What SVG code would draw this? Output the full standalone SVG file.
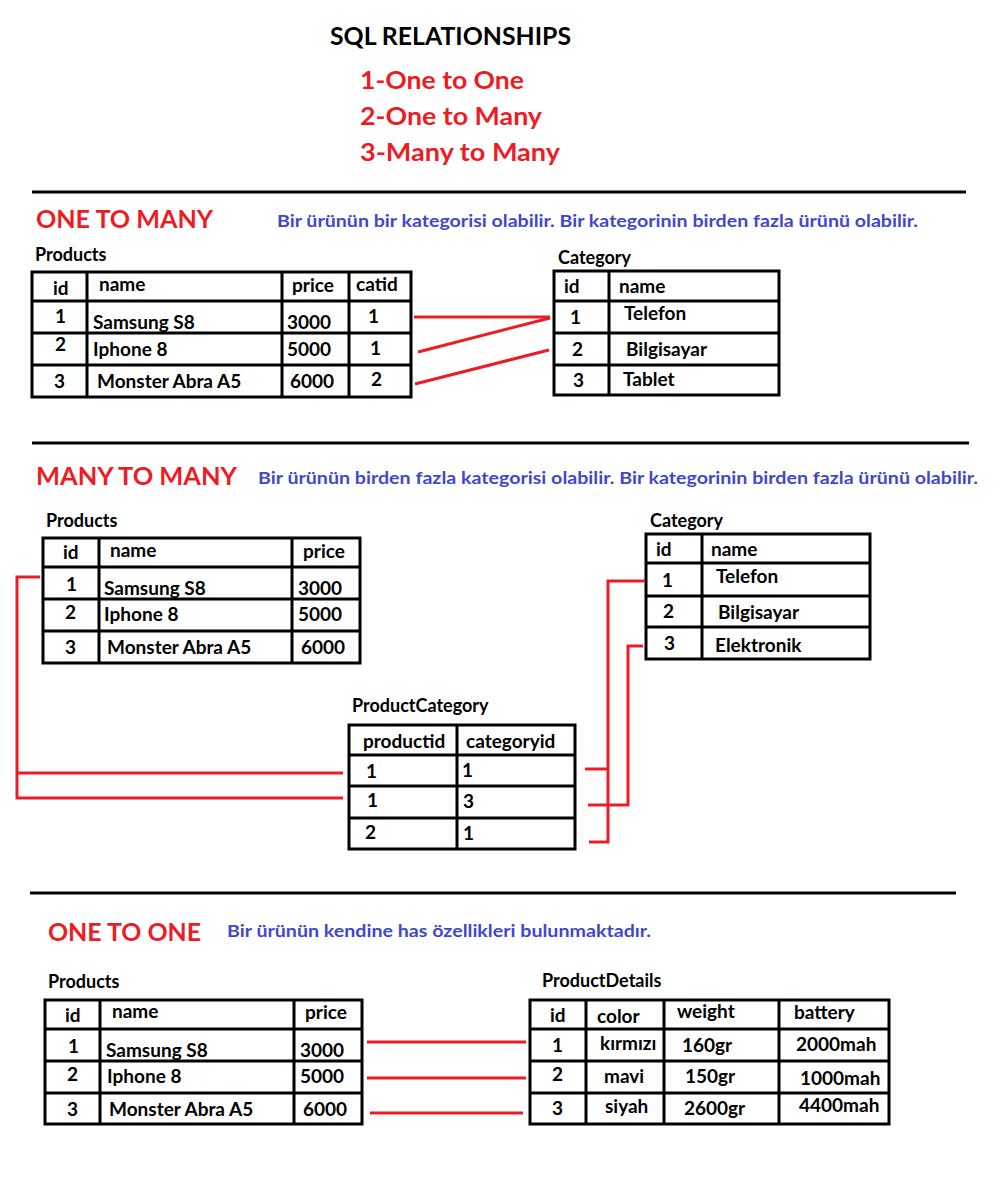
<svg xmlns="http://www.w3.org/2000/svg" width="1002" height="1183" viewBox="0 0 1002 1183">
<style>
text{font-family:Lato,"Liberation Sans",sans-serif;font-weight:700;font-size:19px;fill:#000}
.title{font-size:25px}
.red{font-size:25px;fill:#ed1c24}
.blue{font-size:17.5px;fill:#3f48cc}
.lbl{font-size:18px}
.grid{fill:none;stroke:#000;stroke-width:3}
.sep{stroke:#000;stroke-width:3}
.rel{fill:none;stroke:#ed1c24;stroke-width:3}
</style>
<rect width="1002" height="1183" fill="#fff"/>

<g id="header">
<text class="title" x="330" y="45" textLength="241" lengthAdjust="spacingAndGlyphs">SQL RELATIONSHIPS</text>
<text class="red" x="360" y="89" textLength="164" lengthAdjust="spacingAndGlyphs">1-One to One</text>
<text class="red" x="360" y="125" textLength="182" lengthAdjust="spacingAndGlyphs">2-One to Many</text>
<text class="red" x="360" y="161" textLength="200" lengthAdjust="spacingAndGlyphs">3-Many to Many</text>
</g>

<g id="separators">
<line class="sep" x1="32" y1="192" x2="966" y2="192"/>
<line class="sep" x1="32" y1="443" x2="969" y2="443"/>
<line class="sep" x1="30" y1="893" x2="956" y2="893"/>
</g>

<g id="section-titles">
<text class="red" x="36" y="228" textLength="177" lengthAdjust="spacingAndGlyphs">ONE TO MANY</text>
<text class="blue" x="277" y="227" textLength="641" lengthAdjust="spacingAndGlyphs">Bir ürünün bir kategorisi olabilir. Bir kategorinin birden fazla ürünü olabilir.</text>
<text class="red" x="36" y="485" textLength="201" lengthAdjust="spacingAndGlyphs">MANY TO MANY</text>
<text class="blue" x="258" y="484" textLength="720" lengthAdjust="spacingAndGlyphs">Bir ürünün birden fazla kategorisi olabilir. Bir kategorinin birden fazla ürünü olabilir.</text>
<text class="red" x="48" y="941" textLength="153" lengthAdjust="spacingAndGlyphs">ONE TO ONE</text>
<text class="blue" x="227" y="937" textLength="424" lengthAdjust="spacingAndGlyphs">Bir ürünün kendine has özellikleri bulunmaktadır.</text>
</g>

<g id="otm-products">
<text class="lbl" x="35" y="261">Products</text>
<rect class="grid" x="32" y="272" width="379" height="125"/>
<path class="grid" d="M87,272V397M282,272V397M349,272V397M32,301H411M32,333H411M32,365H411"/>
<text x="53" y="295">id</text><text x="99" y="291">name</text><text x="292" y="292">price</text><text x="356" y="291">catid</text>
<text x="55" y="323">1</text><text x="93" y="329">Samsung S8</text><text x="287" y="329">3000</text><text x="368" y="323">1</text>
<text x="55" y="351">2</text><text x="93" y="356">Iphone 8</text><text x="287" y="356">5000</text><text x="370" y="355">1</text>
<text x="54" y="388">3</text><text x="97" y="388">Monster Abra A5</text><text x="290" y="388">6000</text><text x="371" y="386">2</text>
</g>

<g id="otm-category">
<text class="lbl" x="558" y="264">Category</text>
<rect class="grid" x="554" y="271" width="225" height="124"/>
<path class="grid" d="M609,271V395M554,301H779M554,333H779M554,365H779"/>
<text x="564" y="293">id</text><text x="619" y="293">name</text>
<text x="570" y="324">1</text><text x="624" y="320">Telefon</text>
<text x="572" y="356">2</text><text x="626" y="356">Bilgisayar</text>
<text x="573" y="387">3</text><text x="623" y="386">Tablet</text>
</g>

<g id="mtm-products">
<text class="lbl" x="46" y="527">Products</text>
<rect class="grid" x="43" y="538" width="317" height="125"/>
<path class="grid" d="M99,538V663M292,538V663M43,567H360M43,599H360M43,631H360"/>
<text x="63" y="559">id</text><text x="110" y="557">name</text><text x="303" y="558">price</text>
<text x="66" y="591">1</text><text x="104" y="595">Samsung S8</text><text x="298" y="595">3000</text>
<text x="65" y="619">2</text><text x="104" y="621">Iphone 8</text><text x="298" y="621">5000</text>
<text x="65" y="654">3</text><text x="107" y="654">Monster Abra A5</text><text x="301" y="654">6000</text>
</g>

<g id="mtm-category">
<text class="lbl" x="650" y="527">Category</text>
<rect class="grid" x="646" y="534" width="224" height="125"/>
<path class="grid" d="M702,534V659M646,563H870M646,596H870M646,627H870"/>
<text x="656" y="556">id</text><text x="711" y="556">name</text>
<text x="662" y="587">1</text><text x="716" y="583">Telefon</text>
<text x="663" y="618">2</text><text x="718" y="619">Bilgisayar</text>
<text x="664" y="650">3</text><text x="715" y="652">Elektronik</text>
</g>

<g id="mtm-productcategory">
<text class="lbl" x="352" y="712">ProductCategory</text>
<rect class="grid" x="349" y="725" width="226" height="124"/>
<path class="grid" d="M457,725V849M349,755H575M349,786H575M349,818H575"/>
<text x="363" y="748">productid</text><text x="466" y="748">categoryid</text>
<text x="366" y="778">1</text><text x="462" y="777">1</text>
<text x="367" y="807">1</text><text x="463" y="808">3</text>
<text x="365" y="839">2</text><text x="463" y="840">1</text>
</g>

<g id="oto-products">
<text class="lbl" x="48" y="988">Products</text>
<rect class="grid" x="45" y="1000" width="317" height="124"/>
<path class="grid" d="M100,1000V1124M294,1000V1124M45,1029H362M45,1061H362M45,1093H362"/>
<text x="65" y="1022">id</text><text x="112" y="1018">name</text><text x="305" y="1019">price</text>
<text x="68" y="1053">1</text><text x="106" y="1057">Samsung S8</text><text x="300" y="1057">3000</text>
<text x="67" y="1081">2</text><text x="107" y="1083">Iphone 8</text><text x="300" y="1083">5000</text>
<text x="67" y="1116">3</text><text x="109" y="1116">Monster Abra A5</text><text x="303" y="1116">6000</text>
</g>

<g id="oto-productdetails">
<text class="lbl" x="542" y="987">ProductDetails</text>
<rect class="grid" x="530" y="1000" width="359" height="124"/>
<path class="grid" d="M586,1000V1124M664,1000V1124M779,1000V1124M530,1029H889M530,1061H889M530,1093H889"/>
<text x="550" y="1022">id</text><text x="597" y="1023">color</text><text x="677" y="1018">weight</text><text x="794" y="1019">battery</text>
<text x="552" y="1052">1</text><text x="600" y="1050">kırmızı</text><text x="682" y="1052">160gr</text><text x="796" y="1051">2000mah</text>
<text x="552" y="1081">2</text><text x="604" y="1083">mavi</text><text x="685" y="1083">150gr</text><text x="800" y="1085">1000mah</text>
<text x="552" y="1115">3</text><text x="605" y="1113">siyah</text><text x="684" y="1115">2600gr</text><text x="799" y="1112">4400mah</text>
</g>

<g id="connectors">
<path class="rel" d="M414,317H550"/>
<path class="rel" d="M418,352L550,318"/>
<path class="rel" d="M415,384L549,350"/>
<path class="rel" d="M40,577H17V798H343"/>
<path class="rel" d="M17,773H343"/>
<path class="rel" d="M645,581H608V842H589"/>
<path class="rel" d="M585,769H608"/>
<path class="rel" d="M643,646H628V805H588"/>
<path class="rel" d="M367,1042H526"/>
<path class="rel" d="M367,1078H526"/>
<path class="rel" d="M370,1113H523"/>
</g>
</svg>
